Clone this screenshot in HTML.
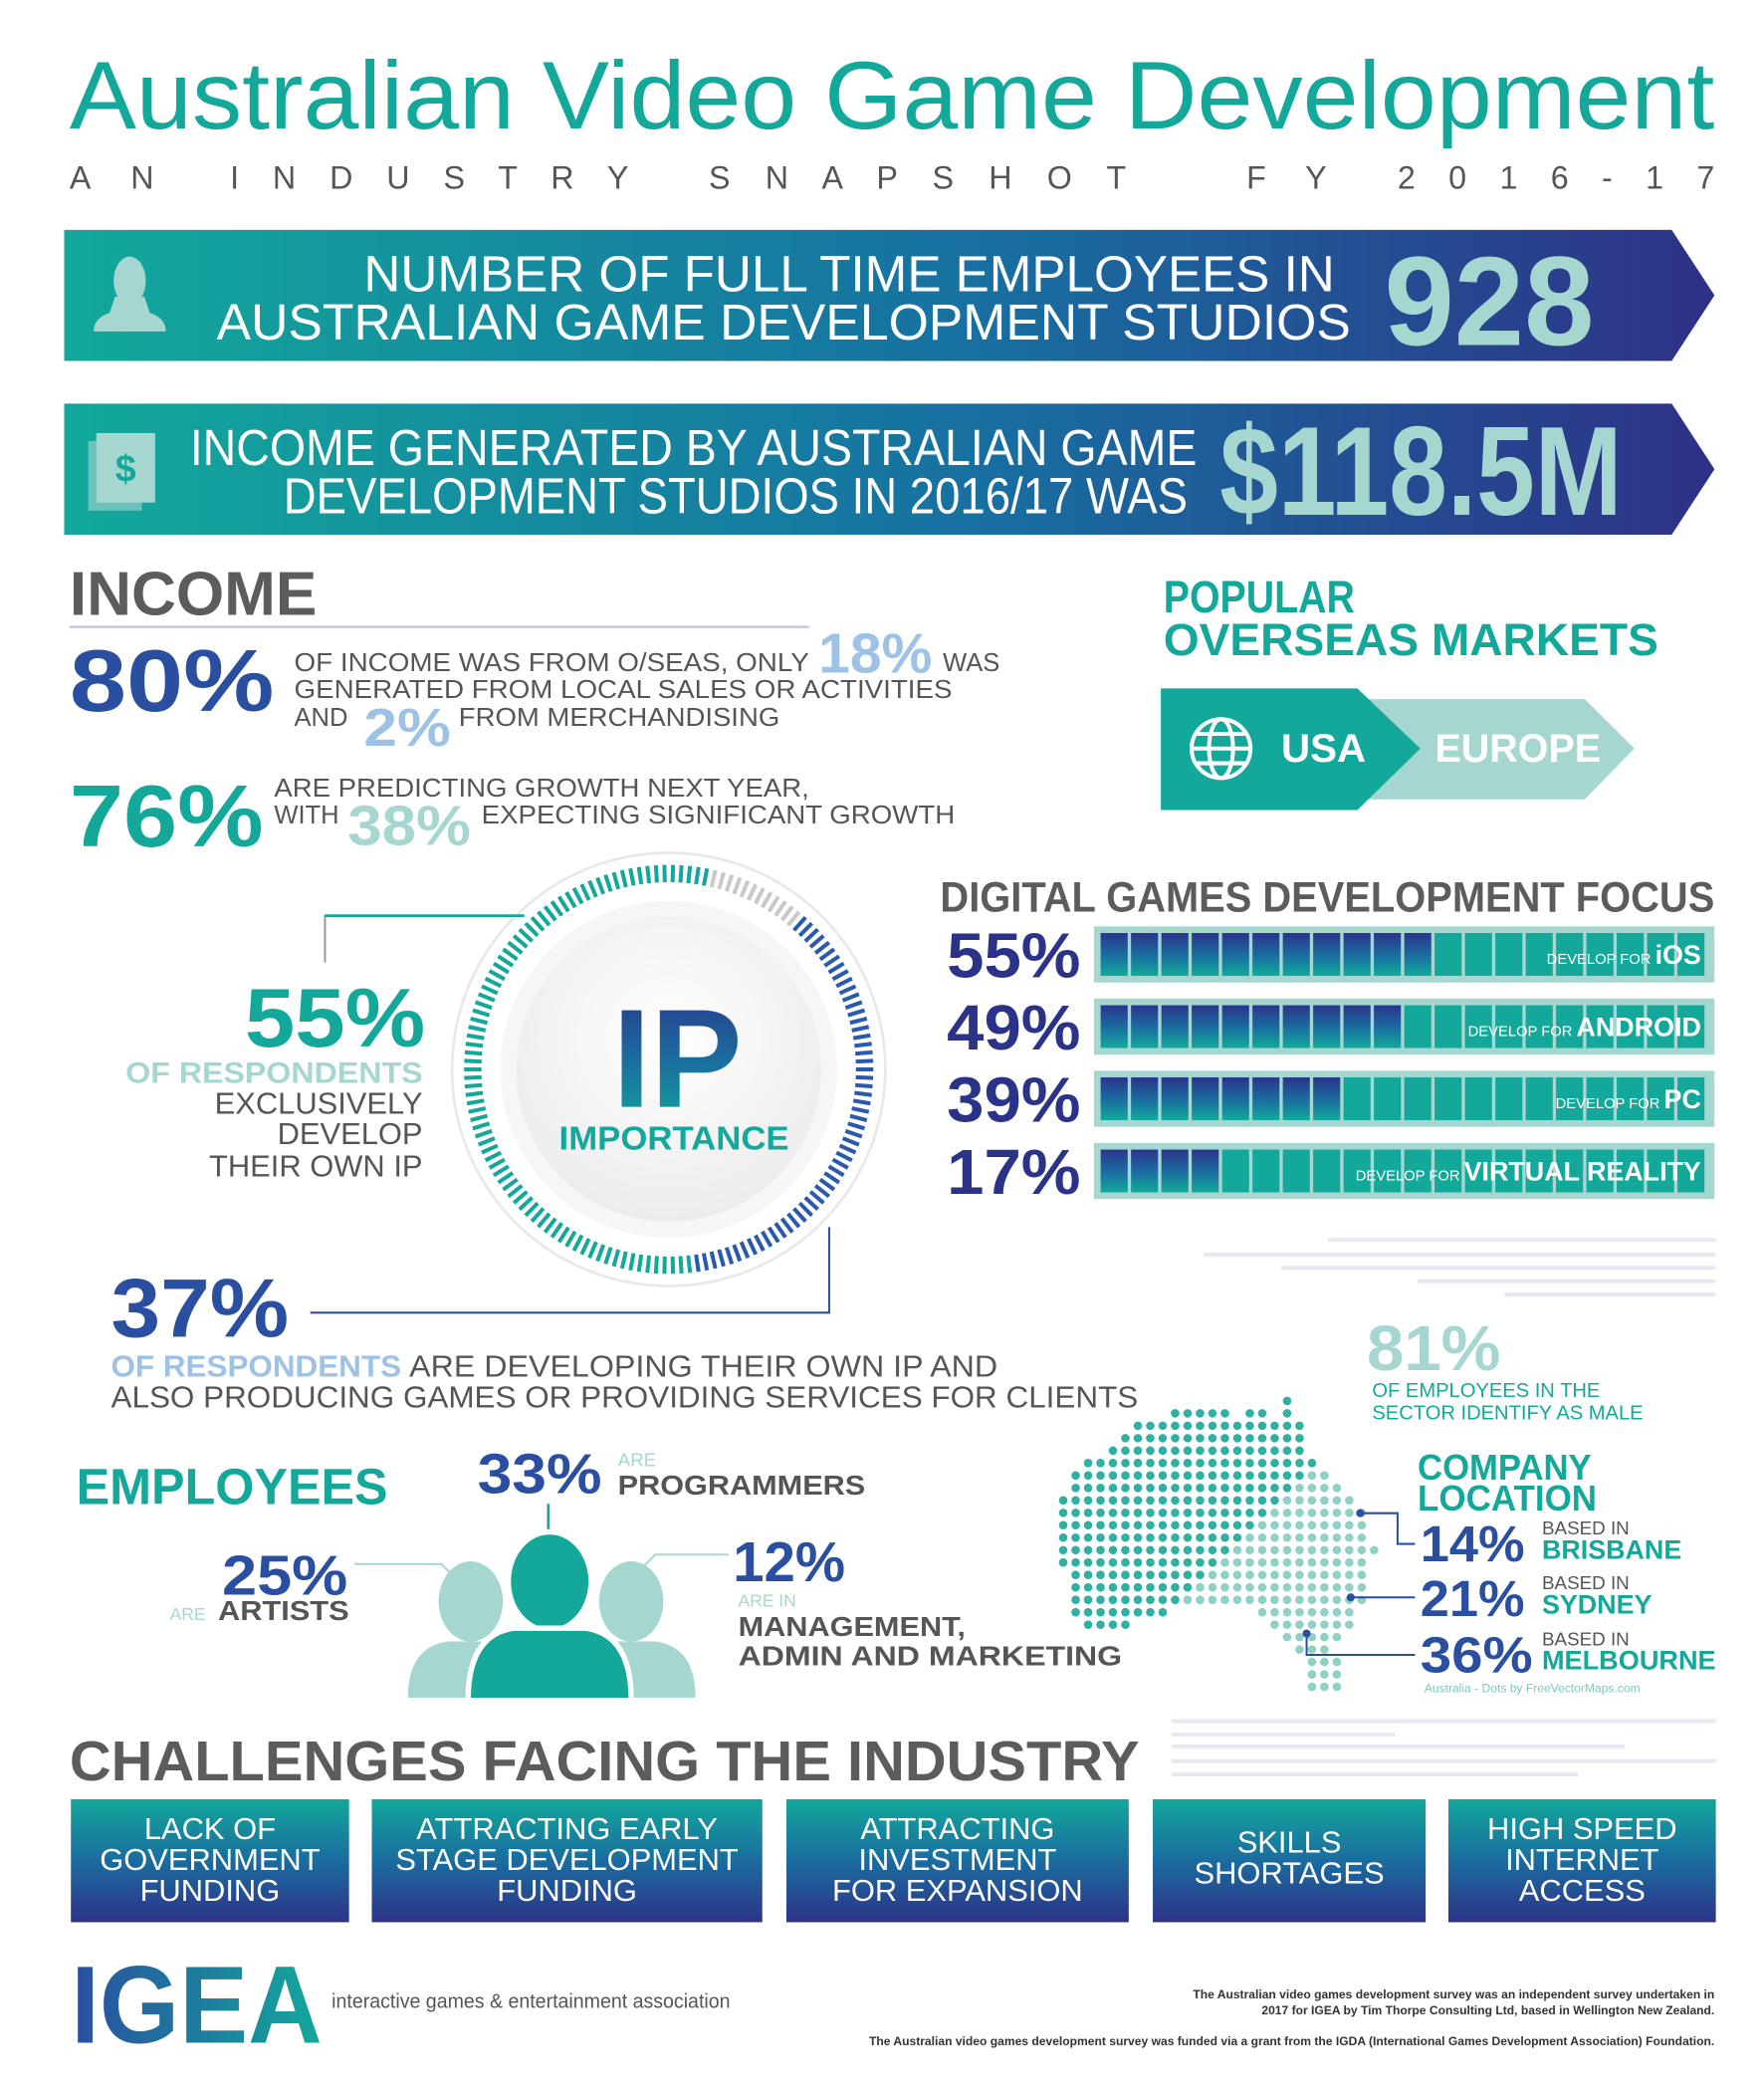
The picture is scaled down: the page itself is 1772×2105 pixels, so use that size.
<!DOCTYPE html>
<html><head><meta charset="utf-8"><style>
html,body{margin:0;padding:0;background:#fff;}
svg{display:block;font-family:"Liberation Sans",sans-serif;}
</style></head><body>
<svg width="1772" height="2105" viewBox="0 0 1319 1568" preserveAspectRatio="none" xmlns="http://www.w3.org/2000/svg">
<defs>
<linearGradient id="ban" x1="0" x2="1" y1="0" y2="0"><stop offset="0" stop-color="#12a99b"/><stop offset="0.55" stop-color="#1770a1"/><stop offset="1" stop-color="#2e3186"/></linearGradient>
<linearGradient id="seg" x1="0" x2="0" y1="0" y2="1"><stop offset="0" stop-color="#2b338a"/><stop offset="0.5" stop-color="#1a6b9f"/><stop offset="1" stop-color="#12a99b"/></linearGradient>
<linearGradient id="box" x1="0" x2="0" y1="0" y2="1"><stop offset="0" stop-color="#13a89b"/><stop offset="0.5" stop-color="#1a6c9f"/><stop offset="1" stop-color="#2d3388"/></linearGradient>
<linearGradient id="ipg" x1="0" x2="0" y1="0" y2="1"><stop offset="0" stop-color="#2b338a"/><stop offset="0.5" stop-color="#1a6c9f"/><stop offset="1" stop-color="#12a99b"/></linearGradient>
<linearGradient id="igea" x1="0" x2="1" y1="0" y2="0"><stop offset="0" stop-color="#2a4fa0"/><stop offset="1" stop-color="#13a89b"/></linearGradient>
<radialGradient id="disk" cx="0.5" cy="0.4" r="0.6"><stop offset="0" stop-color="#ffffff"/><stop offset="1" stop-color="#ececec"/></radialGradient>
</defs>

<text x="52" y="96" font-size="72" fill="#14a89a" textLength="1230" lengthAdjust="spacingAndGlyphs">Australian Video Game Development</text>
<g font-size="24" fill="#555">
<text x="52" y="141" textLength="63" lengthAdjust="spacing">A N</text>
<text x="172" y="141" textLength="298" lengthAdjust="spacing">I N D U S T R Y</text>
<text x="530" y="141" textLength="312" lengthAdjust="spacing">S N A P S H O T</text>
<text x="932" y="141" textLength="60" lengthAdjust="spacing">F Y</text>
<text x="1045" y="141" textLength="237" lengthAdjust="spacing">2 0 1 6 - 1 7</text>
</g>

<g>
<polygon points="48,172 1250,172 1282,221 1250,270 48,270" fill="url(#ban)"/>
<g fill="#a6d6d0"><ellipse cx="97" cy="210" rx="12" ry="18"/><path d="M86 222 L108 222 L112 234 Q124 238 124 248 L70 248 Q70 238 82 234 Z"/></g>
<text x="998" y="218" font-size="38" fill="#fff" text-anchor="end" textLength="726" lengthAdjust="spacingAndGlyphs">NUMBER OF FULL TIME EMPLOYEES IN</text>
<text x="1010" y="254" font-size="38" fill="#fff" text-anchor="end" textLength="848" lengthAdjust="spacingAndGlyphs">AUSTRALIAN GAME DEVELOPMENT STUDIOS</text>
<text x="1035" y="258" font-size="95" font-weight="bold" fill="#a6d6d0" textLength="157" lengthAdjust="spacingAndGlyphs">928</text>
</g>

<g>
<polygon points="48,302 1250,302 1282,351 1250,400 48,400" fill="url(#ban)"/>
<g><rect x="66" y="330" width="40" height="52" fill="#a6d6d0" opacity="0.6"/><rect x="72" y="324" width="44" height="52" fill="#a6d6d0"/><text x="94" y="360" font-size="28" font-weight="bold" fill="#14a89a" text-anchor="middle">$</text></g>
<text x="895" y="348" font-size="38" fill="#fff" text-anchor="end" textLength="753" lengthAdjust="spacingAndGlyphs">INCOME GENERATED BY AUSTRALIAN GAME</text>
<text x="888" y="384" font-size="38" fill="#fff" text-anchor="end" textLength="676" lengthAdjust="spacingAndGlyphs">DEVELOPMENT STUDIOS IN 2016/17 WAS</text>
<text x="912" y="385" font-size="95" font-weight="bold" fill="#a6d6d0" textLength="301" lengthAdjust="spacingAndGlyphs">$118.5M</text>
</g>

<g font-size="19" fill="#555">
<text x="52" y="460" font-size="46" font-weight="bold" fill="#5c5c5c" textLength="185" lengthAdjust="spacingAndGlyphs">INCOME</text>
<rect x="52" y="468" width="553" height="2" fill="#c8cbe4"/>
<text x="52" y="532" font-size="66" font-weight="bold" fill="#2a4fa0" textLength="153" lengthAdjust="spacingAndGlyphs">80%</text>
<text x="220" y="502" textLength="385" lengthAdjust="spacingAndGlyphs">OF INCOME WAS FROM O/SEAS, ONLY</text>
<text x="612" y="503" font-size="42" font-weight="bold" fill="#9ec1e6" textLength="85" lengthAdjust="spacingAndGlyphs">18%</text>
<text x="705" y="502">WAS</text>
<text x="220" y="522" textLength="492" lengthAdjust="spacingAndGlyphs">GENERATED FROM LOCAL SALES OR ACTIVITIES</text>
<text x="220" y="543">AND</text>
<text x="272" y="558" font-size="40" font-weight="bold" fill="#9ec1e6" textLength="65" lengthAdjust="spacingAndGlyphs">2%</text>
<text x="343" y="543" textLength="240" lengthAdjust="spacingAndGlyphs">FROM MERCHANDISING</text>
<text x="52" y="633" font-size="66" font-weight="bold" fill="#14a89a" textLength="145" lengthAdjust="spacingAndGlyphs">76%</text>
<text x="205" y="596" textLength="400" lengthAdjust="spacingAndGlyphs">ARE PREDICTING GROWTH NEXT YEAR,</text>
<text x="205" y="616">WITH</text>
<text x="260" y="632" font-size="42" font-weight="bold" fill="#a6d6d0" textLength="92" lengthAdjust="spacingAndGlyphs">38%</text>
<text x="360" y="616" textLength="354" lengthAdjust="spacingAndGlyphs">EXPECTING SIGNIFICANT GROWTH</text>
</g>

<g>
<text x="870" y="458" font-size="34" font-weight="bold" fill="#14a89a" textLength="143" lengthAdjust="spacingAndGlyphs">POPULAR</text>
<text x="870" y="490" font-size="34" font-weight="bold" fill="#14a89a" textLength="370" lengthAdjust="spacingAndGlyphs">OVERSEAS MARKETS</text>
<polygon points="1000,523 1185,523 1222,560 1185,598 1000,598" fill="#a6d6d0"/>
<polygon points="868,515 1015,515 1062,560 1015,606 868,606" fill="#13a89a"/>
<g fill="none" stroke="#fff" stroke-width="3"><circle cx="913" cy="560" r="22"/><ellipse cx="913" cy="560" rx="9" ry="22"/><line x1="891" y1="560" x2="935" y2="560"/><line x1="895" y1="549" x2="931" y2="549"/><line x1="895" y1="571" x2="931" y2="571"/></g>
<text x="958" y="570" font-size="30" font-weight="bold" fill="#fff">USA</text>
<text x="1073" y="570" font-size="30" font-weight="bold" fill="#fff" textLength="124" lengthAdjust="spacingAndGlyphs">EUROPE</text>
</g>

<text x="703" y="682" font-size="32" font-weight="bold" fill="#5c5c5c" textLength="579" lengthAdjust="spacingAndGlyphs">DIGITAL GAMES DEVELOPMENT FOCUS</text>
<g id="focus"></g>

<g id="ip">
<circle cx="500" cy="800" r="162" fill="#fff" stroke="#e8e8e8" stroke-width="2"/>
</g>
<g>
<circle cx="500" cy="800" r="126" fill="#f6f6f6"/>
<circle cx="500" cy="800" r="114" fill="url(#disk)"/>
<text x="458" y="828" font-size="105" font-weight="bold" fill="url(#ipg)" textLength="97" lengthAdjust="spacingAndGlyphs">IP</text>
<text x="418" y="860" font-size="25" font-weight="bold" fill="#14a89a" textLength="172" lengthAdjust="spacingAndGlyphs">IMPORTANCE</text>
</g>

<g>
<polyline points="243,720 243,685 392,685" fill="none" stroke="#999" stroke-width="1.5"/>
<line x1="243" y1="685" x2="392" y2="685" stroke="#14a89a" stroke-width="2"/>
<text x="318" y="783" font-size="62" font-weight="bold" fill="#14a89a" text-anchor="end" textLength="135" lengthAdjust="spacingAndGlyphs">55%</text>
<text x="316" y="810" font-size="22" font-weight="bold" fill="#a6d6d0" text-anchor="end" textLength="222" lengthAdjust="spacingAndGlyphs">OF RESPONDENTS</text>
<text x="316" y="833" font-size="23" fill="#555" text-anchor="end">EXCLUSIVELY</text>
<text x="316" y="856" font-size="23" fill="#555" text-anchor="end">DEVELOP</text>
<text x="316" y="880" font-size="23" fill="#555" text-anchor="end">THEIR OWN IP</text>
</g>

<g>
<polyline points="620,918 620,982 232,982" fill="none" stroke="#2a4fa0" stroke-width="1.5"/>
<text x="83" y="1000" font-size="62" font-weight="bold" fill="#2a4fa0" textLength="133" lengthAdjust="spacingAndGlyphs">37%</text>
<text x="83" y="1030" font-size="23" font-weight="bold" fill="#9ec1e6" textLength="217" lengthAdjust="spacingAndGlyphs">OF RESPONDENTS</text>
<text x="306" y="1030" font-size="23" fill="#555" textLength="440" lengthAdjust="spacingAndGlyphs">ARE DEVELOPING THEIR OWN IP AND</text>
<text x="83" y="1053" font-size="23" fill="#555" textLength="768" lengthAdjust="spacingAndGlyphs">ALSO PRODUCING GAMES OR PROVIDING SERVICES FOR CLIENTS</text>
</g>

<g fill="#e6e9f2">
<rect x="993" y="926" width="290" height="3"/><rect x="900" y="937" width="383" height="3"/><rect x="958" y="947" width="325" height="3"/><rect x="1060" y="957" width="223" height="3"/><rect x="1125" y="967" width="158" height="3"/>
</g>

<g>
<text x="1022" y="1025" font-size="48" font-weight="bold" fill="#a6d6d0" textLength="100" lengthAdjust="spacingAndGlyphs">81%</text>
<text x="1026" y="1045" font-size="15" fill="#14a89a">OF EMPLOYEES IN THE</text>
<text x="1026" y="1062" font-size="15" fill="#14a89a">SECTOR IDENTIFY AS MALE</text>
</g>

<g id="map"></g>

<g>
<text x="1060" y="1107" font-size="27" font-weight="bold" fill="#14a89a" textLength="130" lengthAdjust="spacingAndGlyphs">COMPANY</text>
<text x="1060" y="1130" font-size="27" font-weight="bold" fill="#14a89a" textLength="134" lengthAdjust="spacingAndGlyphs">LOCATION</text>
<g fill="none" stroke="#2a4fa0" stroke-width="1.5"><polyline points="1017,1132 1045,1132 1045,1155 1058,1155"/><line x1="1010" y1="1195" x2="1058" y2="1195"/><polyline points="977,1222 977,1238 1058,1238"/></g>
<g fill="#2a4fa0"><circle cx="1017" cy="1132" r="3"/><circle cx="1010" cy="1195" r="3"/><circle cx="977" cy="1222" r="3"/></g>
<text x="1062" y="1168" font-size="38" font-weight="bold" fill="#2a4fa0" textLength="78" lengthAdjust="spacingAndGlyphs">14%</text>
<text x="1153" y="1148" font-size="14" fill="#555">BASED IN</text>
<text x="1153" y="1166" font-size="20" font-weight="bold" fill="#14a89a">BRISBANE</text>
<text x="1062" y="1209" font-size="38" font-weight="bold" fill="#2a4fa0" textLength="78" lengthAdjust="spacingAndGlyphs">21%</text>
<text x="1153" y="1189" font-size="14" fill="#555">BASED IN</text>
<text x="1153" y="1207" font-size="20" font-weight="bold" fill="#14a89a">SYDNEY</text>
<text x="1062" y="1251" font-size="38" font-weight="bold" fill="#2a4fa0" textLength="84" lengthAdjust="spacingAndGlyphs">36%</text>
<text x="1153" y="1231" font-size="14" fill="#555">BASED IN</text>
<text x="1153" y="1249" font-size="20" font-weight="bold" fill="#14a89a" textLength="130" lengthAdjust="spacingAndGlyphs">MELBOURNE</text>
<text x="1065" y="1266" font-size="9" fill="#7fc7bf">Australia - Dots by FreeVectorMaps.com</text>
</g>

<g>
<text x="57" y="1125" font-size="38" font-weight="bold" fill="#14a89a" textLength="233" lengthAdjust="spacingAndGlyphs">EMPLOYEES</text>
<g fill="none" stroke="#a6d6d0" stroke-width="1.5"><polyline points="265,1170 330,1170 342,1182"/><polyline points="545,1163 490,1163 478,1175"/></g>
<line x1="410" y1="1125" x2="410" y2="1148" stroke="#14a89a" stroke-width="2"/>
<g fill="#a6d6d0"><ellipse cx="352" cy="1198" rx="24" ry="30"/><path d="M305 1270 Q305 1232 335 1228 L370 1228 Q398 1232 398 1270 Z"/></g>
<g fill="#a6d6d0"><ellipse cx="472" cy="1198" rx="24" ry="30"/><path d="M425 1270 Q425 1232 455 1228 L490 1228 Q520 1232 520 1270 Z"/></g>
<g fill="#13a89a" stroke="#fff" stroke-width="4"><ellipse cx="411" cy="1183" rx="31" ry="37"/><path d="M350 1272 Q350 1222 385 1218 L437 1218 Q472 1222 472 1272 Z"/></g>
<text x="357" y="1117" font-size="42" font-weight="bold" fill="#2a4fa0" textLength="93" lengthAdjust="spacingAndGlyphs">33%</text>
<text x="462" y="1097" font-size="14" fill="#a6d6d0">ARE</text>
<text x="462" y="1118" font-size="21" font-weight="bold" fill="#555" textLength="185" lengthAdjust="spacingAndGlyphs">PROGRAMMERS</text>
<text x="166" y="1193" font-size="42" font-weight="bold" fill="#2a4fa0" textLength="94" lengthAdjust="spacingAndGlyphs">25%</text>
<text x="127" y="1212" font-size="13" fill="#a6d6d0">ARE</text>
<text x="163" y="1212" font-size="21" font-weight="bold" fill="#555" textLength="98" lengthAdjust="spacingAndGlyphs">ARTISTS</text>
<text x="548" y="1183" font-size="42" font-weight="bold" fill="#2a4fa0" textLength="84" lengthAdjust="spacingAndGlyphs">12%</text>
<text x="552" y="1202" font-size="13" fill="#a6d6d0">ARE IN</text>
<text x="552" y="1224" font-size="21" font-weight="bold" fill="#555" textLength="170" lengthAdjust="spacingAndGlyphs">MANAGEMENT,</text>
<text x="552" y="1246" font-size="21" font-weight="bold" fill="#555" textLength="287" lengthAdjust="spacingAndGlyphs">ADMIN AND MARKETING</text>
</g>

<text x="52" y="1332" font-size="42" font-weight="bold" fill="#5c5c5c" textLength="800" lengthAdjust="spacingAndGlyphs">CHALLENGES FACING THE INDUSTRY</text>
<g fill="#e6e9f2">
<rect x="876" y="1286" width="407" height="3"/><rect x="876" y="1296" width="167" height="3"/><rect x="876" y="1305" width="339" height="3"/><rect x="876" y="1316" width="407" height="3"/><rect x="876" y="1326" width="304" height="3"/>
</g>
<g font-size="23" fill="#fff" text-anchor="middle">
<rect x="53" y="1346" width="208" height="92" fill="url(#box)"/>
<text x="157" y="1376">LACK OF</text><text x="157" y="1399">GOVERNMENT</text><text x="157" y="1422">FUNDING</text>
<rect x="278" y="1346" width="292" height="92" fill="url(#box)"/>
<text x="424" y="1376">ATTRACTING EARLY</text><text x="424" y="1399">STAGE DEVELOPMENT</text><text x="424" y="1422">FUNDING</text>
<rect x="588" y="1346" width="256" height="92" fill="url(#box)"/>
<text x="716" y="1376">ATTRACTING</text><text x="716" y="1399">INVESTMENT</text><text x="716" y="1422">FOR EXPANSION</text>
<rect x="862" y="1346" width="204" height="92" fill="url(#box)"/>
<text x="964" y="1386">SKILLS</text><text x="964" y="1409">SHORTAGES</text>
<rect x="1083" y="1346" width="200" height="92" fill="url(#box)"/>
<text x="1183" y="1376">HIGH SPEED</text><text x="1183" y="1399">INTERNET</text><text x="1183" y="1422">ACCESS</text>
</g>

<g>
<text x="53" y="1528" font-size="82" font-weight="bold" fill="url(#igea)" textLength="188" lengthAdjust="spacingAndGlyphs">IGEA</text>
<text x="248" y="1502" font-size="15" fill="#555" textLength="298" lengthAdjust="spacingAndGlyphs">interactive games &amp; entertainment association</text>
<g font-size="9" font-weight="bold" fill="#333" text-anchor="end">
<text x="1282" y="1495">The Australian video games development survey was an independent survey undertaken in</text>
<text x="1282" y="1507">2017 for IGEA by Tim Thorpe Consulting Ltd, based in Wellington New Zealand.</text>
<text x="1282" y="1530">The Australian video games development survey was funded via a grant from the IGDA (International Games Development Association) Foundation.</text>
</g>
</g>
</svg>
<script>
// Focus chart data
var focusPlatforms = ["iOS","ANDROID","PC","VIRTUAL REALITY"];
var focusValues = [55, 49, 39, 17];
var focusLabels = ["55%","49%","39%","17%"];
// IP ring data (clockwise from start angle)
var ipCategories = ["other","both","exclusive"];
var ipValues = [8, 37, 55];
// company location
var cityNames = ["BRISBANE","SYDNEY","MELBOURNE"];
var cityValues = [14, 21, 36];

var NS = "http://www.w3.org/2000/svg";
function mk(tag, attrs, parent){var e=document.createElementNS(NS,tag);for(var k in attrs)e.setAttribute(k,attrs[k]);parent.appendChild(e);return e;}

(function(){
  var g=document.getElementById('focus');
  var x0=818,x1=1282,rowTop=693,rowStep=54,rowH=42,nSeg=20;
  function segX(i){var inner=(x1-5)-(x0+5);return x0+5+i*inner/nSeg;}
  var segW=(x1-x0-10)/nSeg-2.5;
  for(var r=0;r<focusValues.length;r++){
    var y=rowTop+r*rowStep;
    var bg=mk('rect',{x:x0,y:y,width:x1-x0,height:rowH,fill:'#a6d6d0'},g);
    
    
    var dark=Math.ceil(focusValues[r]/100*nSeg);
    for(var i=0;i<nSeg;i++){
      var s=mk('rect',{x:segX(i),y:y+5,width:segW,height:rowH-10,fill:i<dark?'url(#seg)':'#13a89a'},g);
      
      
    }
    var t=mk('text',{x:808,y:y+38,'font-size':48,'font-weight':'bold',fill:'#2b3389','text-anchor':'end',textLength:100,lengthAdjust:'spacingAndGlyphs'},g);
    t.textContent=focusLabels[r];
    
    
    var lab=mk('text',{x:1272,y:y+28,'text-anchor':'end',fill:'#fff'},g);
    
    
    var a=mk('tspan',{'font-size':11},lab);a.textContent='DEVELOP FOR ';
    var b=mk('tspan',{'font-size':20,'font-weight':'bold'},lab);b.textContent=focusPlatforms[r];
  }
})();

(function(){
  var g=document.getElementById('ip');
  var cx=500,cy=800,rIn=140,rOut=153,N=150,start=12;
  var colors={other:'#c9c9c9',both:'#2a5aad',exclusive:'#14a89a'};
  var total=ipValues.reduce(function(a,b){return a+b;},0);
  for(var i=0;i<N;i++){
    var frac=(i+0.5)/N, acc=0, cat=ipCategories[0];
    for(var k=0;k<ipValues.length;k++){acc+=ipValues[k]/total;if(frac<acc){cat=ipCategories[k];break;}}
    var ang=(start+frac*360)*Math.PI/180;
    var sx=Math.sin(ang),sy=-Math.cos(ang);
    var l=mk('line',{x1:cx+sx*rIn,y1:cy+sy*rIn,x2:cx+sx*rOut,y2:cy+sy*rOut,stroke:colors[cat],'stroke-width':3},g);
    
    
  }
})();

(function(){
  var g=document.getElementById('map');
  var poly=[[795,1120],[800,1100],[830,1085],[850,1065],[880,1055],[905,1050],[925,1058],[940,1050],[955,1062],[960,1045],[968,1050],[975,1080],[990,1095],[1005,1110],[1018,1130],[1028,1160],[1025,1190],[1012,1215],[995,1235],[975,1240],[955,1222],[940,1205],[920,1198],[890,1202],[860,1210],[835,1222],[810,1225],[800,1200],[792,1160]];
  function inside(x,y){var c=false;for(var i=0,j=poly.length-1;i<poly.length;j=i++){var xi=poly[i][0],yi=poly[i][1],xj=poly[j][0],yj=poly[j][1];if(((yi>y)!=(yj>y))&&(x<(xj-xi)*(y-yi)/(yj-yi)+xi))c=!c;}return c;}
  for(var y=1048;y<=1262;y+=9.3){for(var x=795;x<=1030;x+=9.3){
    var ok=inside(x,y)||(y>1243&&x>972&&x<1002);
    if(!ok)continue;
    var c=mk('circle',{cx:x,cy:y,r:3.2,fill:(x+y>2080?'#8fd0c7':'#2fb0a3')},g);
    
    
  }}
})();
</script>
</body></html>
